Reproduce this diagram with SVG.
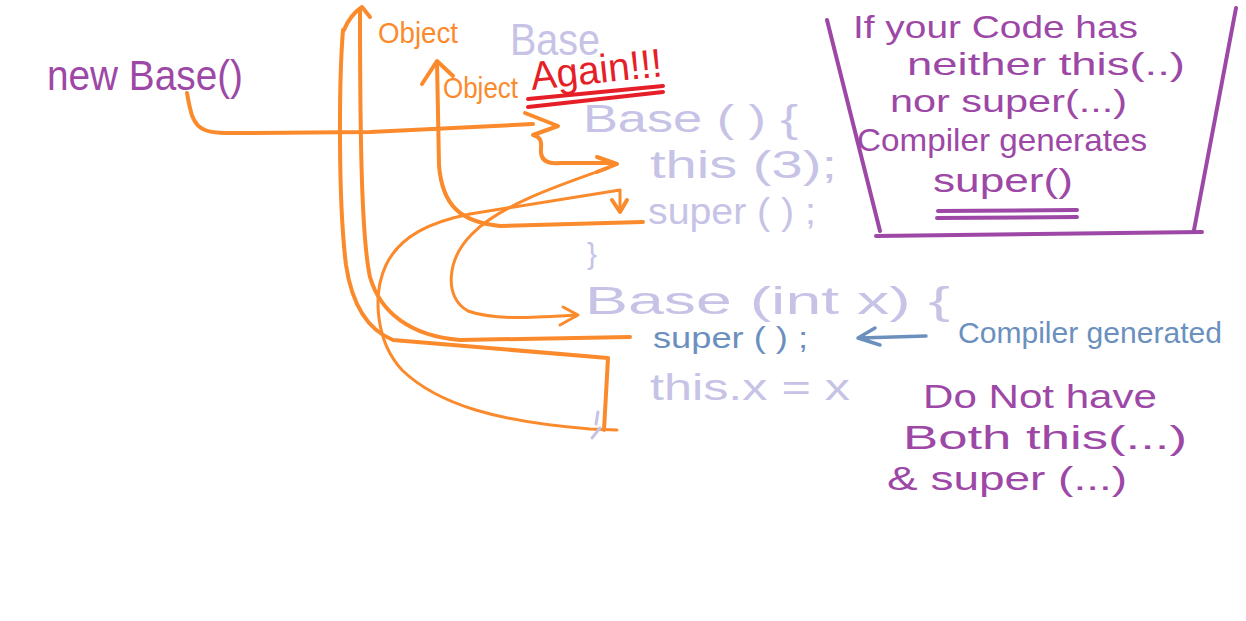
<svg xmlns="http://www.w3.org/2000/svg" width="1246" height="621" viewBox="0 0 1246 621">
<style>
text{font-family:"Liberation Sans",Arial,sans-serif;}
.pu{fill:#9d48a6;}
.lv{fill:#c6c3e6;}
.bl{fill:#6b90be;}
.or{fill:#fb8a2c;}
.rd{fill:#e61e28;}
.o{fill:none;stroke:#fb8a2c;stroke-width:4;stroke-linecap:round;stroke-linejoin:round;}
.ot{fill:none;stroke:#fb8a2c;stroke-width:3;stroke-linecap:round;stroke-linejoin:round;}
.ps{fill:none;stroke:#9d48a6;stroke-width:4;stroke-linecap:round;stroke-linejoin:round;}
.bs{fill:none;stroke:#6b90be;stroke-width:3.5;stroke-linecap:round;stroke-linejoin:round;}
.rs{fill:none;stroke:#e61e28;stroke-width:4;stroke-linecap:round;}
.ls{fill:none;stroke:#c6c3e6;stroke-width:3;stroke-linecap:round;}
</style>
<rect width="1246" height="621" fill="#ffffff"/>

<g id="connectors">
  <!-- new Base() -> Base() -> this(3) -->
  <path class="o" d="M 187 93 C 190 110 192 125 205 130 C 215 134 230 133 250 133 L 370 132 L 533 124"/>
  <path class="o" d="M 525 113 L 558 126 L 533 135 C 545 138 540 148 541 153 C 542 162 550 164 560 163 L 613 163"/>
  <path class="o" d="M 597 157 L 617 164 L 597 172"/>
  <!-- this(3) -> Base(int x) -->
  <path class="ot" d="M 608 168 C 560 185 500 205 472 234 C 446 260 444 298 468 311 C 495 321 540 317 577 315"/>
  <path class="ot" d="M 563 307 L 578 315 L 560 325"/>
  <!-- curve from bottom x up to super() of Base() -->
  <path class="ot" d="M 617 430 L 590 429 C 500 422 438 405 402 370 C 376 342 372 295 386 265 C 400 236 430 222 470 214 L 620 190 L 620 208"/>
  <path class="o" d="M 612 200 L 620 212 L 627 200"/>
  <!-- super() in Base() -> Object (inner) -->
  <path class="o" d="M 643 222 L 500 226 C 460 222 442 205 439 165 L 437 62"/>
  <path class="o" d="M 422 84 L 437 61 L 453 76"/>
  <!-- super() compiler generated -> Object (outer) -->
  <path class="o" d="M 630 337 L 460 340 C 410 336 380 312 370 277 C 362 240 360 150 360 9"/>
  <path class="o" d="M 344 30 Q 350 15 362 7 L 370 17"/>
  <path class="o" d="M 343 30 C 339 80 338 200 346 265 C 352 305 368 330 393 340 L 608 358 L 604 430"/>
  <!-- blue arrow -->
  <path class="bs" d="M 926 336 L 860 338 M 875 328 L 858 338 L 880 345"/>
  <!-- red underline -->
  <path class="rs" d="M 528 99 L 663 86 M 528 107 L 663 92"/>
</g>

<g id="new-base"><text class="pu" x="47" y="90" font-size="42" textLength="196" lengthAdjust="spacingAndGlyphs">new Base()</text></g>

<g id="object-1"><text class="or" x="378" y="43" font-size="30" textLength="80" lengthAdjust="spacingAndGlyphs">Object</text></g>
<g id="object-2"><text class="or" x="443" y="98" font-size="30" textLength="75" lengthAdjust="spacingAndGlyphs">Object</text></g>
<g id="again"><text class="rd" x="532" y="90" font-size="40" textLength="132" lengthAdjust="spacingAndGlyphs" transform="rotate(-6 532 90)">Again!!!</text></g>

<g id="code">
  <text class="lv" x="510" y="55" font-size="44" textLength="90" lengthAdjust="spacingAndGlyphs">Base</text>
  <text class="lv" x="583" y="132" font-size="38" textLength="215" lengthAdjust="spacingAndGlyphs">Base ( ) {</text>
  <text class="lv" x="650" y="178" font-size="38" textLength="187" lengthAdjust="spacingAndGlyphs">this (3);</text>
  <text class="lv" x="648" y="224" font-size="36" textLength="168" lengthAdjust="spacingAndGlyphs">super ( ) ;</text>
  <text class="lv" x="587" y="264" font-size="30">}</text>
  <text class="lv" x="585" y="314" font-size="38" textLength="365" lengthAdjust="spacingAndGlyphs">Base (int x) {</text>
  <text class="bl" x="653" y="348" font-size="30" textLength="155" lengthAdjust="spacingAndGlyphs">super ( ) ;</text>
  <text class="lv" x="650" y="400" font-size="36" textLength="200" lengthAdjust="spacingAndGlyphs">this.x = x</text>
  <path class="ls" d="M 598 412 L 596 424 M 600 428 L 592 438"/>
</g>

<g id="compiler-generated"><text class="bl" x="958" y="343" font-size="30" textLength="264" lengthAdjust="spacingAndGlyphs">Compiler generated</text></g>

<g id="note-box">
  <path class="ps" d="M 827 20 L 880 231 M 876 236 L 1202 232 M 1236 8 L 1194 230"/>
  <text class="pu" x="853" y="38" font-size="32" textLength="285" lengthAdjust="spacingAndGlyphs">If your Code has</text>
  <text class="pu" x="907" y="75" font-size="32" textLength="278" lengthAdjust="spacingAndGlyphs">neither this(..)</text>
  <text class="pu" x="890" y="112" font-size="32" textLength="237" lengthAdjust="spacingAndGlyphs">nor super(...)</text>
  <text class="pu" x="857" y="151" font-size="32" textLength="290" lengthAdjust="spacingAndGlyphs">Compiler generates</text>
  <text class="pu" x="933" y="192" font-size="34" textLength="140" lengthAdjust="spacingAndGlyphs">super()</text>
  <path class="ps" d="M 938 211 L 1077 210 M 937 218 L 1077 217" stroke-width="3"/>
</g>

<g id="note-both">
  <text class="pu" x="923" y="408" font-size="34" textLength="234" lengthAdjust="spacingAndGlyphs">Do Not have</text>
  <text class="pu" x="903" y="449" font-size="34" textLength="284" lengthAdjust="spacingAndGlyphs">Both this(...)</text>
  <text class="pu" x="887" y="490" font-size="34" textLength="240" lengthAdjust="spacingAndGlyphs">&amp; super (...)</text>
</g>
</svg>
